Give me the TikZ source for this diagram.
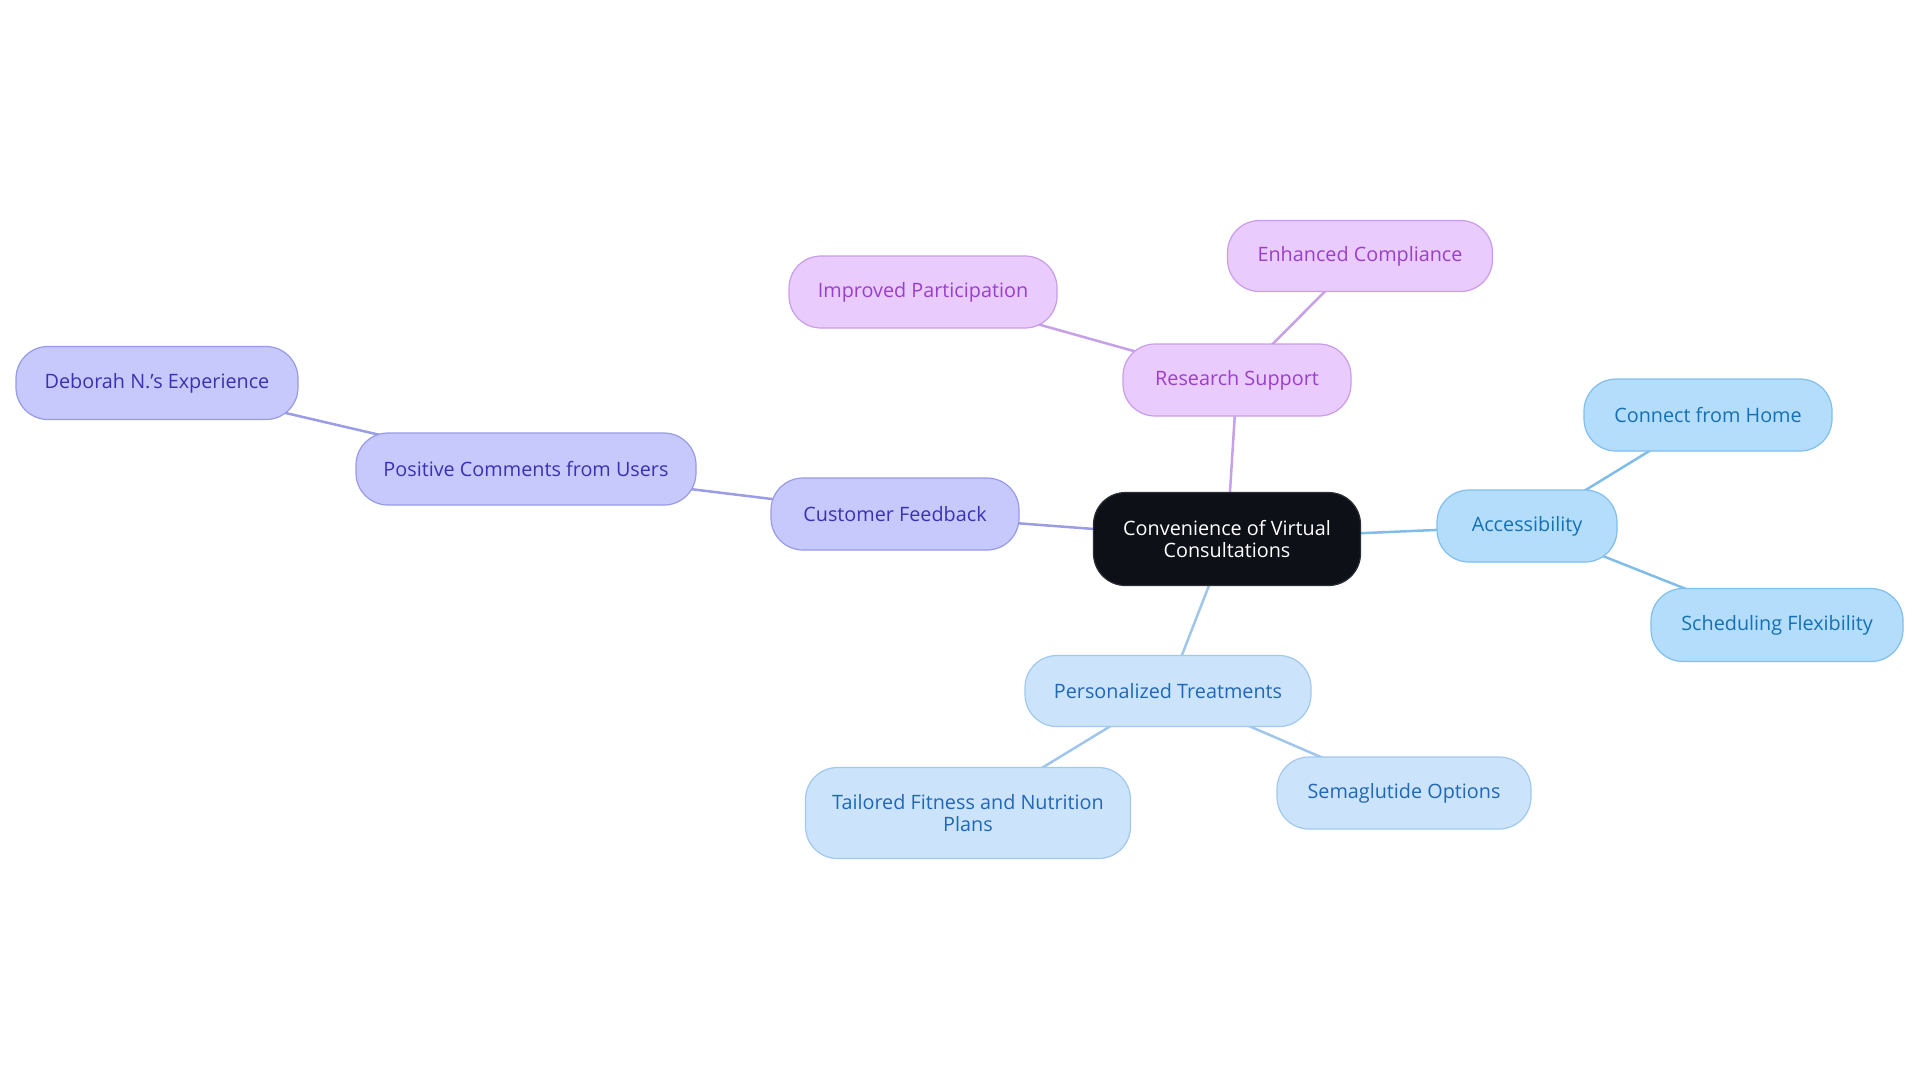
\documentclass[tikz,border=0pt]{standalone}
\usepackage{fontspec}
\setmainfont{Open Sans}
\usetikzlibrary{backgrounds}
\definecolor{cdark}{HTML}{0D1117}
\definecolor{cdarkb}{HTML}{2A2F36}
\definecolor{pfill}{HTML}{E9CBFD}
\definecolor{pdraw}{HTML}{C99CEC}
\definecolor{ptext}{HTML}{9B3FCB}
\definecolor{pline}{HTML}{C7A0EA}
\definecolor{vfill}{HTML}{C7C9FC}
\definecolor{vdraw}{HTML}{989AE9}
\definecolor{vtext}{HTML}{3A32B2}
\definecolor{vline}{HTML}{9A9CE8}
\definecolor{afill}{HTML}{B3DDFB}
\definecolor{adraw}{HTML}{80BFEF}
\definecolor{atext}{HTML}{1570B5}
\definecolor{aline}{HTML}{80BDE8}
\definecolor{tfill}{HTML}{CCE4FB}
\definecolor{tdraw}{HTML}{A0C8F0}
\definecolor{ttext}{HTML}{2167B8}
\definecolor{tline}{HTML}{A0C6EC}
\tikzset{
  box/.style={rectangle, rounded corners=16pt, inner sep=0pt, align=center,
    line width=0.6pt, font=\fontsize{9.9}{11}\selectfont},
  central/.style={box, fill=cdark, draw=cdarkb, text=white},
  pbox/.style={box, fill=pfill, draw=pdraw, text=ptext},
  vbox/.style={box, fill=vfill, draw=vdraw, text=vtext},
  abox/.style={box, fill=afill, draw=adraw, text=atext},
  tbox/.style={box, fill=tfill, draw=tdraw, text=ttext},
  link/.style={line width=1.25pt},
}
\begin{document}
\begin{tikzpicture}[x=0.5pt,y=-0.5pt]
\useasboundingbox (0,0) rectangle (1920,1083);
\node[central, minimum width=133.5pt, minimum height=46.5pt] (c) at (1227,539) {Convenience of Virtual\\Consultations};
\node[pbox, minimum width=114pt, minimum height=36pt] (rs) at (1237,380) {Research Support};
\node[pbox, minimum width=132.5pt, minimum height=35.5pt] (ec) at (1360,256) {Enhanced Compliance};
\node[pbox, minimum width=134pt, minimum height=36pt] (ip) at (923,292) {Improved Participation};
\node[vbox, minimum width=124pt, minimum height=36pt] (cf) at (895,514) {Customer Feedback};
\node[vbox, minimum width=170pt, minimum height=36pt] (pc) at (526,469) {Positive Comments from Users};
\node[vbox, minimum width=141pt, minimum height=36.5pt] (dn) at (157,383) {Deborah N.'s Experience};
\node[abox, minimum width=90pt, minimum height=36pt] (ac) at (1527,526) {Accessibility};
\node[abox, minimum width=124pt, minimum height=36pt] (ch) at (1708,415) {Connect from Home};
\node[abox, minimum width=126pt, minimum height=36.5pt] (sf) at (1777,625) {Scheduling Flexibility};
\node[tbox, minimum width=143pt, minimum height=35.5pt] (pt) at (1168,691) {Personalized Treatments};
\node[tbox, minimum width=162.5pt, minimum height=45.5pt] (tf) at (968,813) {Tailored Fitness and Nutrition\\Plans};
\node[tbox, minimum width=127pt, minimum height=36pt] (so) at (1404,793) {Semaglutide Options};
\begin{scope}[on background layer]
\draw[link, pline] (c.center) -- (rs.center);
\draw[link, pline] (rs.center) -- (ec.center);
\draw[link, pline] (rs.center) -- (ip.center);
\draw[link, vline] (c.center) -- (cf.center);
\draw[link, vline] (cf.center) -- (pc.center);
\draw[link, vline] (pc.center) -- (dn.center);
\draw[link, aline] (c.center) -- (ac.center);
\draw[link, aline] (ac.center) -- (ch.center);
\draw[link, aline] (ac.center) -- (sf.center);
\draw[link, tline] (c.center) -- (pt.center);
\draw[link, tline] (pt.center) -- (tf.center);
\draw[link, tline] (pt.center) -- (so.center);
\end{scope}
\end{tikzpicture}
\end{document}
